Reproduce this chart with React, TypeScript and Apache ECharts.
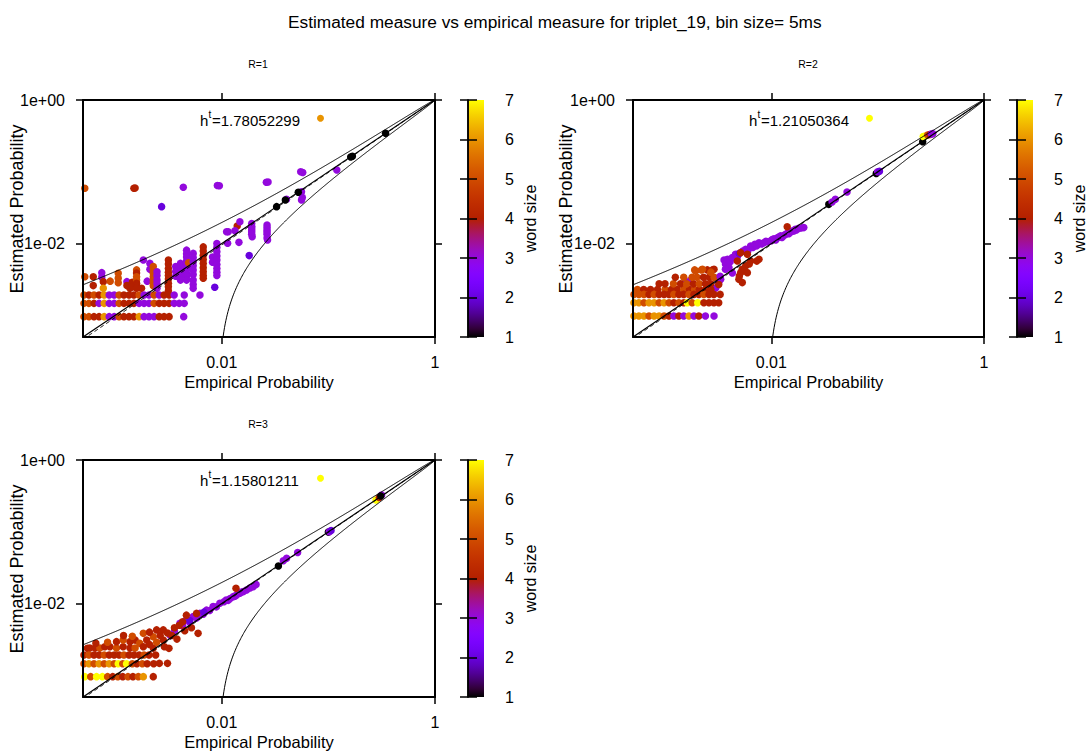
import React, { useEffect, useRef } from "react";
import * as echarts from "echarts";

// ---------- values ----------
const TITLE = "Estimated measure vs empirical measure for triplet_19, bin size= 5ms";
const PANEL_TITLES = ["R=1", "R=2", "R=3"];
const X_NAME = "Empirical Probability";
const Y_NAME = "Estimated Probability";
const CB_NAME = "word size";
const H_VALUES = ["1.78052299", "1.21050364", "1.15801211"];
const KEY_WORD_SIZE = [6, 7, 7];
const AX_MIN = 5e-4;
const AX_MAX = 1;
const X_TICKS = [0.01, 1];
const Y_TICKS = [0.01, 1];
const CB_MIN = 1;
const CB_MAX = 7;
const BOUND_K = 0.097; // confidence band: p ± K·sqrt(p(1-p))
const DASH_EXP = [1.01, 1.006, 1.006];

// [empirical probability, estimated probability, word size]
const p1Points: number[][] = [
  [5.2e-4, 0.059, 5], [1.5e-3, 0.059, 4], [1.54e-3, 0.0595, 4], [4.36e-3, 0.061, 3],
  [9.1e-3, 0.0645, 3], [9.5e-3, 0.064, 3], [0.0262, 0.0715, 3], [0.0272, 0.072, 3],
  [0.055, 0.1, 3], [0.0575, 0.098, 3], [0.12, 0.106, 3], [2.73e-3, 0.0327, 2],
  [0.0405, 0.0414, 3], [0.056, 0.0526, 3], [0.056, 0.0405, 3], [0.057, 0.044, 3],
  [0.344, 0.343, 1], [0.162, 0.161, 1], [0.168, 0.165, 1], [0.0522, 0.0518, 1],
  [0.0395, 0.0405, 1], [0.0327, 0.0327, 1],
  [0.01397, 0.0176, 4], [0.0115, 0.01465, 3], [0.0148, 0.0202, 3], [0.0133, 0.0151, 3],
  [0.01135, 0.0101, 3], [0.0145, 0.0104, 3], [0.0191, 0.0191, 3], [0.0191, 0.0165, 3],
  [0.0191, 0.0145, 3], [0.0193, 0.0125, 3], [0.0266, 0.0182, 3], [0.0266, 0.0155, 3],
  [0.0266, 0.0135, 3], [0.0269, 0.0112, 3], [0.0181, 6.8e-3, 2], [0.0111, 0.0146, 3],
  [0.0191, 0.0175, 3], [0.0191, 0.0155, 3], [0.0191, 0.0135, 3],
  [0.0266, 0.0168, 3], [0.0266, 0.0145, 3], [0.0266, 0.012, 3],
  [5.2e-4, 3.46e-3, 5], [6.24e-4, 3.46e-3, 4], [6.24e-4, 2.6e-3, 4], [7.5e-4, 3.94e-3, 3],
  [7.5e-4, 3.4e-3, 3], [7.75e-4, 2.95e-3, 4], [7.75e-4, 2.38e-3, 6], [9.0e-4, 3.0e-3, 5],
  [1.07e-3, 3.85e-3, 5], [1.07e-3, 3.3e-3, 5], [1.07e-3, 2.85e-3, 5], [1.29e-3, 2.95e-3, 3],
  [1.29e-3, 2.6e-3, 4], [1.38e-3, 2.38e-3, 4], [1.45e-3, 2.9e-3, 4], [1.45e-3, 2.5e-3, 4],
  [1.59e-3, 4.3e-3, 5], [1.59e-3, 3.9e-3, 4], [1.59e-3, 3.46e-3, 5], [1.59e-3, 3.1e-3, 5],
  [1.59e-3, 2.8e-3, 4], [1.59e-3, 2.6e-3, 4], [1.59e-3, 2.38e-3, 4], [1.77e-3, 2.38e-3, 4],
  [1.84e-3, 5.9e-3, 3], [2.0e-3, 3.0e-3, 3], [2.12e-3, 5.3e-3, 3], [2.12e-3, 4.4e-3, 3],
  [2.28e-3, 4.8e-3, 5], [2.28e-3, 4.3e-3, 5], [2.28e-3, 3.85e-3, 5], [2.28e-3, 3.45e-3, 5],
  [2.28e-3, 3.1e-3, 5], [2.28e-3, 2.8e-3, 5], [2.28e-3, 2.58e-3, 5],
  [2.47e-3, 4.04e-3, 3], [2.47e-3, 3.6e-3, 3], [2.47e-3, 3.1e-3, 3], [2.47e-3, 2.75e-3, 3],
  [2.47e-3, 2.38e-3, 3],
  [3.16e-3, 5.9e-3, 4], [3.16e-3, 5.2e-3, 4], [3.16e-3, 4.5e-3, 4], [3.16e-3, 4.0e-3, 4],
  [3.16e-3, 3.6e-3, 4], [3.16e-3, 3.2e-3, 4], [3.16e-3, 2.8e-3, 4], [3.16e-3, 2.5e-3, 4],
  [3.16e-3, 2.2e-3, 4], [3.7e-3, 4.8e-3, 3], [3.7e-3, 4.1e-3, 3], [3.7e-3, 3.5e-3, 3],
  [4.1e-3, 5.3e-3, 3], [4.1e-3, 4.6e-3, 3], [4.1e-3, 4.04e-3, 3], [4.1e-3, 3.5e-3, 3],
  [4.1e-3, 3.1e-3, 3],
  [4.68e-3, 8.1e-3, 3], [4.68e-3, 7.2e-3, 3], [4.68e-3, 6.5e-3, 3], [4.68e-3, 5.7e-3, 3],
  [4.68e-3, 5.0e-3, 3], [4.68e-3, 4.4e-3, 3], [4.68e-3, 3.85e-3, 3], [4.68e-3, 3.5e-3, 3],
  [4.68e-3, 3.1e-3, 3], [4.88e-3, 5.4e-3, 5],
  [5.4e-3, 7.3e-3, 3], [5.4e-3, 6.4e-3, 3], [5.4e-3, 5.6e-3, 3], [5.4e-3, 4.9e-3, 3],
  [5.4e-3, 4.3e-3, 3], [5.4e-3, 3.7e-3, 3], [5.4e-3, 3.1e-3, 3], [5.4e-3, 2.7e-3, 3],
  [5.4e-3, 2.38e-3, 3], [6.25e-3, 1.92e-3, 3],
  [6.71e-3, 9.0e-3, 4], [6.71e-3, 7.9e-3, 4], [6.71e-3, 6.9e-3, 4], [6.71e-3, 6.0e-3, 4],
  [6.71e-3, 5.3e-3, 4], [6.71e-3, 4.6e-3, 4], [6.71e-3, 4.04e-3, 4], [6.71e-3, 3.6e-3, 4],
  [6.71e-3, 3.3e-3, 4], [8.6e-3, 2.46e-3, 2], [8.2e-3, 6.5e-3, 3], [8.2e-3, 5.5e-3, 3],
  [9.0e-3, 0.01, 3], [9.0e-3, 8.8e-3, 3], [9.0e-3, 7.7e-3, 3], [9.0e-3, 6.7e-3, 3],
  [9.0e-3, 5.9e-3, 3], [9.0e-3, 5.1e-3, 3], [9.0e-3, 4.5e-3, 3], [9.0e-3, 4.0e-3, 3],
  [9.0e-3, 3.6e-3, 3],
  // estimated ≈ 2e-3
  [5.1e-4, 1.92e-3, 5], [5.68e-4, 1.92e-3, 4], [6.34e-4, 1.92e-3, 5], [7.07e-4, 1.92e-3, 4],
  [7.9e-4, 1.92e-3, 6], [8.8e-4, 1.92e-3, 3], [9.8e-4, 1.92e-3, 3], [1.09e-3, 1.92e-3, 5],
  [1.21e-3, 1.92e-3, 4], [1.35e-3, 1.92e-3, 4], [1.5e-3, 1.92e-3, 4], [1.68e-3, 1.92e-3, 5],
  [1.87e-3, 1.92e-3, 3], [2.08e-3, 1.92e-3, 3], [2.32e-3, 1.92e-3, 5], [2.59e-3, 1.92e-3, 3],
  [2.88e-3, 1.92e-3, 4], [3.21e-3, 1.92e-3, 4], [3.58e-3, 1.92e-3, 3], [4.45e-3, 1.92e-3, 3],
  // estimated ≈ 1.5e-3
  [5.1e-4, 1.47e-3, 5], [5.68e-4, 1.47e-3, 5], [6.34e-4, 1.47e-3, 4], [7.07e-4, 1.47e-3, 3],
  [7.9e-4, 1.47e-3, 6], [8.8e-4, 1.47e-3, 3], [9.8e-4, 1.47e-3, 3], [1.09e-3, 1.47e-3, 5],
  [1.21e-3, 1.47e-3, 4], [1.35e-3, 1.47e-3, 4], [1.5e-3, 1.47e-3, 4], [1.68e-3, 1.47e-3, 3],
  [1.87e-3, 1.47e-3, 3], [2.08e-3, 1.47e-3, 3], [2.32e-3, 1.47e-3, 5], [2.59e-3, 1.47e-3, 4],
  [2.88e-3, 1.47e-3, 4], [3.21e-3, 1.47e-3, 4], [3.58e-3, 1.47e-3, 3], [3.99e-3, 1.47e-3, 3],
  [4.45e-3, 1.47e-3, 3],
  // estimated ≈ 1e-3
  [5.1e-4, 9.6e-4, 5], [5.68e-4, 9.6e-4, 5], [6.34e-4, 9.6e-4, 4], [7.07e-4, 9.6e-4, 4],
  [7.9e-4, 9.6e-4, 6], [8.8e-4, 9.6e-4, 3], [9.8e-4, 9.6e-4, 3], [1.09e-3, 9.6e-4, 5],
  [1.21e-3, 9.6e-4, 4], [1.35e-3, 9.6e-4, 4], [1.5e-3, 9.6e-4, 4], [1.68e-3, 9.6e-4, 6],
  [1.87e-3, 9.6e-4, 3], [2.08e-3, 9.6e-4, 3], [2.32e-3, 9.6e-4, 3], [2.59e-3, 9.6e-4, 4],
  [2.88e-3, 9.6e-4, 4], [3.21e-3, 9.6e-4, 4], [4.4e-3, 9.6e-4, 3],
];

const p2Points: number[][] = [
  [0.265, 0.263, 1], [0.268, 0.31, 7], [0.28, 0.315, 7], [0.295, 0.325, 5], [0.31, 0.33, 4],
  [0.32, 0.335, 3], [0.33, 0.34, 3],
  [0.097, 0.095, 1], [0.1, 0.1, 3], [0.104, 0.102, 2],
  [0.0347, 0.0352, 1], [0.0373, 0.038, 3], [0.04, 0.0414, 3], [0.0515, 0.0524, 3],
  // purple band along the diagonal
  [3.34e-3, 3.18e-3, 3], [3.59e-3, 5.9e-3, 3], [3.7e-3, 5.2e-3, 3], [3.87e-3, 6.04e-3, 3],
  [4.1e-3, 5.6e-3, 3], [4.3e-3, 6.4e-3, 3], [4.6e-3, 7.1e-3, 3], [4.8e-3, 6.6e-3, 3],
  [5.0e-3, 7.3e-3, 2], [5.4e-3, 7.9e-3, 3], [5.73e-3, 8.3e-3, 3], [6.0e-3, 7.8e-3, 3],
  [6.38e-3, 9.26e-3, 3], [6.7e-3, 8.8e-3, 3], [7.0e-3, 9.77e-3, 3], [7.3e-3, 9.3e-3, 3],
  [7.65e-3, 0.0103, 3], [8.1e-3, 9.9e-3, 3], [8.51e-3, 0.0103, 3], [8.9e-3, 0.0108, 3],
  [9.2e-3, 0.0106, 3], [9.84e-3, 0.0109, 3], [0.0102, 0.0114, 3], [0.0106, 0.0117, 3],
  [0.011, 0.0112, 3], [0.01135, 0.012, 3], [0.0118, 0.0124, 3], [0.0122, 0.0128, 3],
  [0.0126, 0.0122, 3], [0.0131, 0.013, 3], [0.0136, 0.0134, 3], [0.0141, 0.0139, 3],
  [0.0146, 0.0137, 3], [0.015, 0.0143, 3], [0.0156, 0.0149, 3], [0.0163, 0.015, 3],
  [0.0168, 0.0158, 3], [0.0172, 0.0155, 3], [0.0181, 0.0163, 3], [0.019, 0.0165, 3],
  [0.0202, 0.0167, 3],
  // red points near the diagonal
  [0.0141, 0.0172, 4], [4.79e-3, 5.73e-3, 4], [5.14e-3, 7.48e-3, 4], [5.95e-3, 7.09e-3, 4],
  [6.38e-3, 5.73e-3, 4], [7.65e-3, 6.04e-3, 4], [7.3e-3, 5.7e-3, 4], [5.14e-3, 3.94e-3, 4],
  [4.95e-3, 3.18e-3, 4], [5.33e-3, 2.86e-3, 4], [5.95e-3, 3.94e-3, 4], [5.73e-3, 4.88e-3, 4],
  [5.33e-3, 4.4e-3, 4], [5.0e-3, 3.54e-3, 4], [6.2e-3, 5.2e-3, 4],
  [4.0e-3, 4.6e-3, 3], [4.3e-3, 3.9e-3, 3], [3.7e-3, 4.4e-3, 3], [1.55e-3, 3.0e-3, 3],
  [1.75e-3, 3.1e-3, 3], [3.2e-3, 2.9e-3, 3], [3.0e-3, 2.4e-3, 3],
  // cloud above the lowest rows
  [5.5e-4, 2.3e-3, 5], [6.3e-4, 2.3e-3, 4], [7.3e-4, 2.3e-3, 4], [8.5e-4, 2.3e-3, 4],
  [1.0e-3, 2.3e-3, 5], [1.15e-3, 2.3e-3, 4], [1.3e-3, 2.3e-3, 4], [1.5e-3, 2.3e-3, 5],
  [1.7e-3, 2.3e-3, 4], [1.9e-3, 2.3e-3, 5], [2.1e-3, 2.3e-3, 4], [2.4e-3, 2.3e-3, 4],
  [2.7e-3, 2.3e-3, 4], [8.8e-4, 2.75e-3, 4], [1.0e-3, 2.75e-3, 4], [1.2e-3, 2.75e-3, 5],
  [1.4e-3, 2.75e-3, 4], [1.6e-3, 2.75e-3, 5], [1.85e-3, 2.75e-3, 4], [2.1e-3, 2.75e-3, 5],
  [2.4e-3, 2.75e-3, 4], [2.7e-3, 2.75e-3, 4], [3.2e-3, 2.7e-3, 4],
  [1.25e-3, 3.4e-3, 4], [1.5e-3, 3.4e-3, 5], [1.8e-3, 3.4e-3, 5], [2.0e-3, 3.4e-3, 5],
  [2.3e-3, 3.4e-3, 4], [2.6e-3, 3.4e-3, 4], [2.9e-3, 3.4e-3, 5], [3.3e-3, 3.5e-3, 3],
  [1.9e-3, 4.3e-3, 5], [2.2e-3, 4.3e-3, 5], [2.5e-3, 4.3e-3, 4], [2.8e-3, 4.3e-3, 4],
  [2.25e-3, 4.38e-3, 5], [2.89e-3, 4.38e-3, 4], [2.7e-3, 4.0e-3, 5], [1.94e-3, 4.15e-3, 5],
  // estimated ≈ 2e-3
  [5.1e-4, 1.96e-3, 5], [5.68e-4, 1.96e-3, 5], [6.34e-4, 1.96e-3, 5], [7.07e-4, 1.96e-3, 4],
  [7.9e-4, 1.96e-3, 5], [8.8e-4, 1.96e-3, 4], [9.8e-4, 1.96e-3, 4], [1.09e-3, 1.96e-3, 4],
  [1.21e-3, 1.96e-3, 5], [1.35e-3, 1.96e-3, 4], [1.5e-3, 1.96e-3, 4], [1.68e-3, 1.96e-3, 5],
  [1.87e-3, 1.96e-3, 4], [2.08e-3, 1.96e-3, 4], [2.32e-3, 1.96e-3, 5], [2.59e-3, 1.96e-3, 4],
  [2.88e-3, 1.96e-3, 4], [3.3e-3, 1.96e-3, 4],
  // estimated ≈ 1.5e-3
  [5.1e-4, 1.5e-3, 6], [5.68e-4, 1.5e-3, 6], [6.34e-4, 1.5e-3, 5], [7.07e-4, 1.5e-3, 6],
  [7.9e-4, 1.5e-3, 6], [8.8e-4, 1.5e-3, 5], [9.8e-4, 1.5e-3, 6], [1.09e-3, 1.5e-3, 5],
  [1.21e-3, 1.5e-3, 4], [1.35e-3, 1.5e-3, 5], [1.5e-3, 1.5e-3, 4], [1.62e-3, 1.5e-3, 7],
  [1.8e-3, 1.5e-3, 5], [2.03e-3, 1.5e-3, 7], [2.32e-3, 1.5e-3, 4], [2.59e-3, 1.5e-3, 4],
  [2.88e-3, 1.5e-3, 4], [3.2e-3, 1.5e-3, 4],
  // estimated ≈ 1e-3
  [5.1e-4, 9.8e-4, 6], [5.68e-4, 9.8e-4, 6], [6.34e-4, 9.8e-4, 6], [7.07e-4, 9.8e-4, 5],
  [7.9e-4, 9.8e-4, 6], [8.8e-4, 9.8e-4, 6], [9.8e-4, 9.8e-4, 5], [1.09e-3, 9.8e-4, 4],
  [1.21e-3, 9.8e-4, 3], [1.35e-3, 9.8e-4, 4], [1.5e-3, 9.8e-4, 3], [1.68e-3, 9.8e-4, 6],
  [1.87e-3, 9.8e-4, 3], [2.08e-3, 9.8e-4, 4], [2.4e-3, 9.8e-4, 3], [2.89e-3, 9.8e-4, 3],
];

const p3Points: number[][] = [
  [0.28, 0.277, 7], [0.3, 0.3, 4], [0.316, 0.326, 3], [0.31, 0.315, 1],
  [0.1, 0.099, 1], [0.102, 0.1, 3], [0.106, 0.104, 2],
  [0.034, 0.0334, 1], [0.0378, 0.0396, 3], [0.0406, 0.0428, 3], [0.0515, 0.0514, 3],
  // purple band along the diagonal
  [4.05e-3, 5.3e-3, 3], [4.3e-3, 4.9e-3, 3], [4.66e-3, 5.9e-3, 3], [5.0e-3, 5.5e-3, 3],
  [5.41e-3, 6.6e-3, 3], [5.8e-3, 6.3e-3, 3], [6.25e-3, 7.3e-3, 3], [6.7e-3, 7.1e-3, 3],
  [7.2e-3, 8.1e-3, 3], [7.7e-3, 8.0e-3, 3], [8.3e-3, 9.1e-3, 3], [8.9e-3, 9.0e-3, 3],
  [9.6e-3, 0.0101, 3], [0.0105, 0.0106, 3], [0.011, 0.0112, 3], [0.0115, 0.0111, 3],
  [0.012, 0.0118, 3], [0.0128, 0.0125, 3], [0.0133, 0.0127, 3], [0.0138, 0.0132, 3],
  [0.0148, 0.0139, 3], [0.0154, 0.0145, 3], [0.016, 0.0147, 3], [0.0171, 0.0155, 3],
  [0.0184, 0.0165, 3], [0.0197, 0.0172, 3], [0.021, 0.0185, 3], [5.0e-3, 5.8e-3, 2],
  [6.8e-3, 7.6e-3, 2], [3.6e-3, 4.2e-3, 3], [3.3e-3, 3.6e-3, 3],
  [0.0136, 0.0163, 4],
  // red/orange cloud
  [5.5e-4, 2.38e-3, 4], [5.8e-4, 2.4e-3, 4], [6.5e-4, 2.4e-3, 4], [7.2e-4, 2.4e-3, 5],
  [8.0e-4, 2.5e-3, 4], [8.94e-4, 2.5e-3, 4], [1.03e-3, 2.4e-3, 5], [1.03e-3, 2.95e-3, 4],
  [1.19e-3, 2.5e-3, 4], [1.19e-3, 3.1e-3, 5], [1.38e-3, 2.95e-3, 4], [1.38e-3, 2.4e-3, 4],
  [1.54e-3, 3.1e-3, 4], [1.54e-3, 2.4e-3, 5], [1.7e-3, 2.8e-3, 5], [1.84e-3, 3.85e-3, 5],
  [1.84e-3, 2.5e-3, 4], [1.98e-3, 3.1e-3, 4], [2.1e-3, 2.7e-3, 4], [2.28e-3, 3.46e-3, 5],
  [2.28e-3, 2.4e-3, 4], [2.45e-3, 4.3e-3, 4], [2.45e-3, 2.9e-3, 5], [2.65e-3, 3.6e-3, 4],
  [2.83e-3, 4.3e-3, 4], [2.83e-3, 3.1e-3, 4], [2.9e-3, 2.5e-3, 4], [3.2e-3, 2.38e-3, 4],
  [3.1e-3, 3.9e-3, 4], [3.4e-3, 3.6e-3, 4], [3.6e-3, 4.6e-3, 4], [4.0e-3, 5.0e-3, 4],
  [3.8e-3, 3.2e-3, 4], [4.3e-3, 5.6e-3, 4], [4.66e-3, 6.9e-3, 4], [5.8e-3, 7.3e-3, 4],
  [6.0e-3, 3.85e-3, 4], [5.2e-3, 4.6e-3, 4], [4.5e-3, 4.2e-3, 4], [1.2e-3, 3.6e-3, 4],
  [1.45e-3, 3.5e-3, 5], [2.1e-3, 4.0e-3, 4], [6.6e-4, 2.8e-3, 4], [8.5e-4, 2.9e-3, 5],
  [2.6e-3, 1.47e-3, 4], [3.1e-3, 1.47e-3, 4],
  // estimated ≈ 2e-3
  [5.1e-4, 1.92e-3, 4], [5.68e-4, 1.92e-3, 5], [6.34e-4, 1.92e-3, 4], [7.07e-4, 1.92e-3, 4],
  [7.9e-4, 1.92e-3, 5], [8.8e-4, 1.92e-3, 4], [9.8e-4, 1.92e-3, 4], [1.09e-3, 1.92e-3, 4],
  [1.21e-3, 1.92e-3, 5], [1.35e-3, 1.92e-3, 4], [1.5e-3, 1.92e-3, 4], [1.68e-3, 1.92e-3, 4],
  [1.87e-3, 1.92e-3, 5], [2.08e-3, 1.92e-3, 4], [2.4e-3, 1.92e-3, 4],
  // estimated ≈ 1.5e-3
  [5.1e-4, 1.45e-3, 5], [5.68e-4, 1.45e-3, 6], [6.34e-4, 1.45e-3, 5], [7.07e-4, 1.45e-3, 6],
  [7.9e-4, 1.45e-3, 5], [8.8e-4, 1.45e-3, 6], [9.8e-4, 1.45e-3, 5], [1.07e-3, 1.45e-3, 7],
  [1.18e-3, 1.45e-3, 5], [1.28e-3, 1.45e-3, 7], [1.45e-3, 1.45e-3, 5], [1.6e-3, 1.45e-3, 4],
  [1.8e-3, 1.45e-3, 5], [2.0e-3, 1.45e-3, 4], [2.3e-3, 1.45e-3, 4],
  // estimated ≈ 1e-3
  [5.2e-4, 9.6e-4, 7], [5.9e-4, 9.6e-4, 5], [6.7e-4, 9.6e-4, 7], [7.6e-4, 9.6e-4, 7],
  [8.5e-4, 9.6e-4, 5], [9.5e-4, 9.6e-4, 4], [1.06e-3, 9.6e-4, 5], [1.18e-3, 9.6e-4, 4],
  [1.32e-3, 9.6e-4, 5], [1.47e-3, 9.6e-4, 4], [1.65e-3, 9.6e-4, 5], [1.84e-3, 9.6e-4, 6],
  [2.28e-3, 9.6e-4, 4],
];

const PANEL_POINTS = [p1Points, p2Points, p3Points];

// ---------- styling ----------
const FONT = "'Liberation Sans', Arial, Helvetica, sans-serif";
const GRIDS = [
  { left: 83, top: 100, width: 352, height: 237 },
  { left: 633, top: 100, width: 351, height: 237 },
  { left: 83, top: 460, width: 352, height: 237 },
];
const CB_GRIDS = [
  { left: 468, top: 100, width: 16, height: 237 },
  { left: 1017, top: 100, width: 16, height: 237 },
  { left: 468, top: 460, width: 16, height: 237 },
];
const RLABEL_POS = [[258, 64], [808, 64], [258, 424]];
const KEY_POS = [[200, 120], [749, 120], [200, 480]];
const YNAME_POS = [[17, 209], [566, 209], [17, 569]];

function palette(v: number): string {
  const t = Math.min(1, Math.max(0, (v - CB_MIN) / (CB_MAX - CB_MIN)));
  const r = Math.sqrt(t);
  const g = t * t * t;
  const b = Math.max(0, Math.sin(2 * Math.PI * t));
  return `rgb(${Math.round(r * 255)},${Math.round(g * 255)},${Math.round(b * 255)})`;
}

function fmtX(v: number): string {
  return String(Number(v.toPrecision(3)));
}
function fmtY(v: number): string {
  const e = Math.round(Math.log10(v));
  return "1e" + (e < 0 ? "-" : "+") + String(Math.abs(e)).padStart(2, "0");
}

function curveDomain(): number[] {
  const out: number[] = [];
  const lo = Math.log10(AX_MIN);
  const hi = Math.log10(AX_MAX);
  for (let i = 0; i <= 500; i++) out.push(Math.pow(10, lo + ((hi - lo) * i) / 500));
  return out;
}

function buildOption() {
  const xs = curveDomain();
  const upper = xs.map((p) => [p, p + BOUND_K * Math.sqrt(p * (1 - p))]);
  const lower = xs
    .map((p) => [p, p - BOUND_K * Math.sqrt(p * (1 - p))])
    .filter((d) => d[1] > 1e-6);

  const xAxis: any[] = [];
  const yAxis: any[] = [];
  const series: any[] = [];
  const grid: any[] = [];
  const tickStyle = { color: "#000", width: 1.5 };
  const frame = { show: true, lineStyle: { color: "#000", width: 2 } };

  GRIDS.forEach((g) => grid.push({ ...g, containLabel: false }));
  CB_GRIDS.forEach((g) => grid.push({ ...g, containLabel: false }));

  for (let i = 0; i < 3; i++) {
    const baseX = {
      type: "log", logBase: 10, gridIndex: i, min: AX_MIN, max: AX_MAX, z: 5,
      axisLine: frame, splitLine: { show: false },
    };
    xAxis.push({
      ...baseX, position: "bottom",
      axisTick: { show: true, inside: false, length: 7, lineStyle: tickStyle, customValues: X_TICKS },
      axisLabel: { show: true, customValues: X_TICKS, formatter: fmtX, color: "#000", fontSize: 16, margin: 17, fontFamily: FONT },
      name: X_NAME, nameLocation: "middle", nameGap: 36,
      nameTextStyle: { color: "#000", fontSize: 16.5, fontFamily: FONT },
    });
    xAxis.push({
      ...baseX, position: "top",
      axisTick: { show: true, inside: false, length: 7, lineStyle: tickStyle, customValues: X_TICKS },
      axisLabel: { show: false, customValues: X_TICKS },
    });
    const baseY = {
      type: "log", logBase: 10, gridIndex: i, min: AX_MIN, max: AX_MAX, z: 5,
      axisLine: frame, splitLine: { show: false },
    };
    yAxis.push({
      ...baseY, position: "left",
      axisTick: { show: true, inside: false, length: 7, lineStyle: tickStyle, customValues: Y_TICKS },
      axisLabel: { show: true, customValues: Y_TICKS, formatter: fmtY, color: "#000", fontSize: 16, margin: 18, fontFamily: FONT },
    });
    yAxis.push({
      ...baseY, position: "right",
      axisTick: { show: true, inside: false, length: 7, lineStyle: tickStyle, customValues: Y_TICKS },
      axisLabel: { show: false, customValues: Y_TICKS },
    });

    const xi = 2 * i;
    const yi = 2 * i;
    series.push({
      type: "scatter", xAxisIndex: xi, yAxisIndex: yi, data: PANEL_POINTS[i],
      symbol: "circle", symbolSize: 7.5, z: 2, silent: true,
      itemStyle: { color: (p: any) => palette(p.value[2]), opacity: 1 },
    });
    const lineCommon = {
      type: "line", xAxisIndex: xi, yAxisIndex: yi, symbol: "none", silent: true, z: 3,
      clip: true,
    };
    series.push({ ...lineCommon, data: [[AX_MIN, AX_MIN], [AX_MAX, AX_MAX]], lineStyle: { color: "#000", width: 1.2 } });
    series.push({
      ...lineCommon,
      data: xs.map((p) => [p, Math.pow(p, DASH_EXP[i])]),
      lineStyle: { color: "#000", width: 1, type: [4, 3] },
    });
    series.push({ ...lineCommon, data: upper, lineStyle: { color: "#000", width: 1 } });
    series.push({ ...lineCommon, data: lower, lineStyle: { color: "#000", width: 1 } });
  }

  // colour bars
  const stops: any[] = [];
  for (let k = 0; k <= 30; k++) {
    stops.push({ offset: k / 30, color: palette(CB_MAX - ((CB_MAX - CB_MIN) * k) / 30) });
  }
  for (let i = 0; i < 3; i++) {
    const gi = 3 + i;
    xAxis.push({ type: "value", gridIndex: gi, min: 0, max: 1, show: false });
    const baseCb = {
      type: "value", gridIndex: gi, min: CB_MIN, max: CB_MAX, interval: 1, z: 5,
      axisLine: { show: true, lineStyle: { color: "#000", width: 1.5 } },
      splitLine: { show: false },
    };
    yAxis.push({
      ...baseCb, position: "right",
      axisTick: { show: true, inside: false, length: 9, lineStyle: tickStyle },
      axisLabel: { show: true, color: "#000", fontSize: 16, margin: 21, fontFamily: FONT },
      name: CB_NAME, nameLocation: "middle", nameGap: 38, nameRotate: 90,
      nameTextStyle: { color: "#000", fontSize: 16, fontFamily: FONT },
    });
    yAxis.push({
      ...baseCb, position: "left",
      axisTick: { show: true, inside: false, length: 8, lineStyle: tickStyle },
      axisLabel: { show: false },
    });
    series.push({
      type: "custom", xAxisIndex: 6 + i, yAxisIndex: 6 + 2 * i, silent: true, z: 1,
      data: [[0, CB_MIN, 1, CB_MAX]],
      renderItem: (_params: any, api: any) => {
        const a = api.coord([api.value(0), api.value(3)]);
        const b = api.coord([api.value(2), api.value(1)]);
        return {
          type: "rect",
          shape: { x: a[0], y: a[1], width: b[0] - a[0], height: b[1] - a[1] },
          style: { fill: new echarts.graphic.LinearGradient(0, 0, 0, 1, stops) },
        };
      },
    });
  }

  const graphic: any[] = [];
  PANEL_TITLES.forEach((t, i) => {
    graphic.push({
      type: "text", x: RLABEL_POS[i][0], y: RLABEL_POS[i][1], silent: true,
      style: { text: t, fontSize: 10.5, fontFamily: FONT, fill: "#000", align: "center", verticalAlign: "middle" },
    });
  });
  YNAME_POS.forEach((pos) => {
    graphic.push({
      type: "text", x: pos[0], y: pos[1], rotation: Math.PI / 2, silent: true,
      style: { text: Y_NAME, fontSize: 18, fontFamily: FONT, fill: "#000", align: "center", verticalAlign: "middle" },
    });
  });
  H_VALUES.forEach((h, i) => {
    graphic.push({
      type: "group", x: KEY_POS[i][0], y: KEY_POS[i][1], silent: true,
      children: [
        { type: "text", x: 0, y: 0, style: { text: "h", fontSize: 15, fontFamily: FONT, fill: "#000", verticalAlign: "middle" } },
        { type: "text", x: 8.5, y: -6, style: { text: "t", fontSize: 10, fontFamily: FONT, fill: "#000", verticalAlign: "middle" } },
        { type: "text", x: 12, y: 0, style: { text: "=" + h, fontSize: 15, fontFamily: FONT, fill: "#000", verticalAlign: "middle" } },
        { type: "circle", x: 120.5, y: -1.8, shape: { r: 3.5 }, style: { fill: palette(KEY_WORD_SIZE[i]) } },
      ],
    });
  });

  return {
    animation: false,
    backgroundColor: "#fff",
    title: [{
      text: TITLE, left: 283, top: 8,
      textStyle: { fontSize: 17.3, fontWeight: "normal", color: "#000", fontFamily: FONT },
    }],
    grid, xAxis, yAxis, series, graphic,
  };
}

export default function App() {
  const ref = useRef<HTMLDivElement>(null);
  useEffect(() => {
    if (!ref.current) return;
    const chart = echarts.init(ref.current, undefined, { renderer: "svg" });
    chart.setOption(buildOption() as any);
    return () => chart.dispose();
  }, []);
  return (
    <div
      ref={ref}
      style={{ position: "absolute", left: 0, top: 0, width: 1091, height: 755, background: "#fff" }}
    />
  );
}
